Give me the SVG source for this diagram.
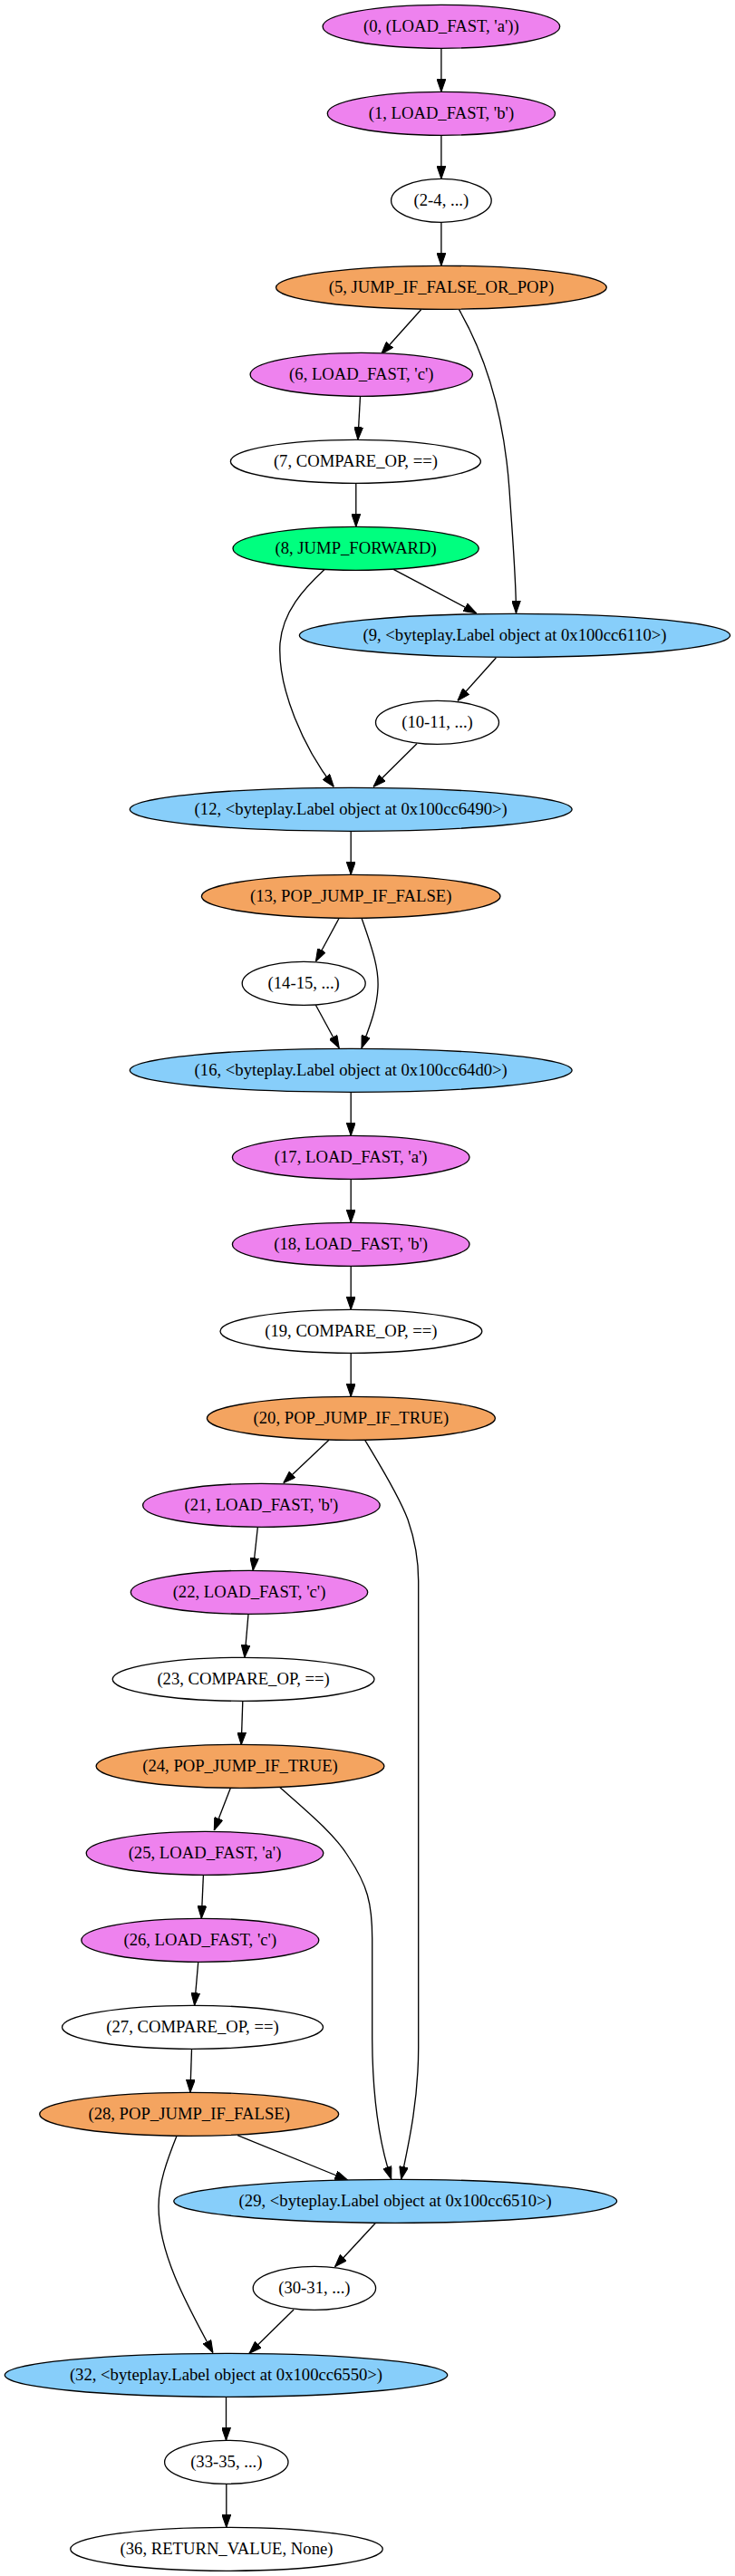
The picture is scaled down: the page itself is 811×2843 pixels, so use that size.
<svg xmlns="http://www.w3.org/2000/svg" width="811" height="2843" viewBox="0 0 811 2843">
<style>
.n ellipse{stroke:#000;stroke-width:1.33}
.n text{font-family:"Liberation Serif",Times,serif;font-size:18.67px;text-anchor:middle;fill:#000}
.v{fill:#EE82EE}.o{fill:#F4A460}.g{fill:#00FF7F}.b{fill:#87CEFA}.w{fill:#FFFFFF}
#edges path{fill:none;stroke:#000;stroke-width:1.33;marker-end:url(#ah)}
</style>
<defs>
<marker id="ah" markerUnits="userSpaceOnUse" markerWidth="14" markerHeight="10" viewBox="0 0 13.33 9.33" refX="13.33" refY="4.67" orient="auto">
<path d="M0,0 L13.33,4.67 L0,9.33 z" fill="#000" stroke="#000" stroke-width="1"/>
</marker>
</defs>
<rect width="811" height="2843" fill="#fff"/>
<g id="edges">
<path d="M486.9,53.3 L486.9,101.3"/>
<path d="M486.9,149.3 L486.9,197.3"/>
<path d="M486.9,245.3 L486.9,293.3"/>
<path d="M464.6,341.7 L420.7,390.7"/>
<path d="M506.5,341.7 C540,400 557,470 562,540 C566,600 569.5,640 569.5,676.7"/>
<path d="M397.5,437.3 L394.9,485.3"/>
<path d="M392.8,533.3 L392.8,581.3"/>
<path d="M434.2,628.3 L525.6,676.7"/>
<path d="M358.3,628.3 C335,650 312,675 309,710 C306,760 335,825 368.3,868.3"/>
<path d="M547.3,726 L505,773.3"/>
<path d="M460,820.7 L412,868.3"/>
<path d="M387.2,917.3 L387.2,965.3"/>
<path d="M374.2,1013.3 L348.4,1061"/>
<path d="M399,1013.3 C412,1050 418,1070 417,1090 C416,1115 405,1140 399,1156.7"/>
<path d="M348.4,1109.3 L374.2,1156.7"/>
<path d="M387.2,1205.3 L387.2,1253.3"/>
<path d="M387.2,1301.3 L387.2,1349.3"/>
<path d="M387.2,1397.3 L387.2,1445.3"/>
<path d="M387.2,1493.3 L387.2,1541.3"/>
<path d="M362.9,1589.3 L312.7,1636.7"/>
<path d="M402.7,1589.3 C418,1615 440,1650 450,1677 C458,1700 461.7,1720 461.7,1745 L461.7,2260 C461.7,2320 450,2370 442.7,2405"/>
<path d="M284.3,1686 L279.2,1733.3"/>
<path d="M274,1781.7 L269.9,1829.3"/>
<path d="M267.8,1877.7 L266.2,1925.7"/>
<path d="M254.4,1973.3 L236.3,2020"/>
<path d="M309,1972.7 C340,2000 370,2025 385,2050 C405,2080 410.7,2100 410.7,2140 L410.7,2250 C411,2320 420,2370 431.7,2405"/>
<path d="M224.4,2069.3 L222.3,2117.3"/>
<path d="M218.7,2165.7 L214.6,2213.3"/>
<path d="M211.5,2261.7 L209.9,2309.3"/>
<path d="M262.1,2356.7 L383.5,2406"/>
<path d="M195,2357.3 C184,2385 175,2410 175,2435 C175,2490 210,2550 235,2596.7"/>
<path d="M414.5,2453.3 L369.6,2501.7"/>
<path d="M324.1,2549 L275,2597.3"/>
<path d="M249.5,2645.3 L249.5,2693.3"/>
<path d="M249.8,2741.3 L249.8,2789.3"/>
</g>
<g id="n0" class="n"><ellipse class="v" cx="486.9" cy="29.3" rx="130.8" ry="24"/><text x="486.9" y="34.9">(0, (LOAD_FAST, 'a'))</text></g>
<g id="n1" class="n"><ellipse class="v" cx="486.9" cy="125.3" rx="125.6" ry="24"/><text x="486.9" y="130.9">(1, LOAD_FAST, 'b')</text></g>
<g id="n2" class="n"><ellipse class="w" cx="486.9" cy="221.3" rx="55.3" ry="24"/><text x="486.9" y="226.9">(2-4, ...)</text></g>
<g id="n5" class="n"><ellipse class="o" cx="486.9" cy="317.3" rx="182.4" ry="24"/><text x="486.9" y="322.9">(5, JUMP_IF_FALSE_OR_POP)</text></g>
<g id="n6" class="n"><ellipse class="v" cx="398.8" cy="413.3" rx="122.7" ry="24"/><text x="398.8" y="418.9">(6, LOAD_FAST, 'c')</text></g>
<g id="n7" class="n"><ellipse class="w" cx="392.4" cy="509.3" rx="138" ry="24"/><text x="392.4" y="514.9">(7, COMPARE_OP, ==)</text></g>
<g id="n8" class="n"><ellipse class="g" cx="392.6" cy="605.3" rx="135.6" ry="24"/><text x="392.6" y="610.9">(8, JUMP_FORWARD)</text></g>
<g id="n9" class="n"><ellipse class="b" cx="568" cy="701.3" rx="237.6" ry="24"/><text x="568" y="706.9">(9, &lt;byteplay.Label object at 0x100cc6110&gt;)</text></g>
<g id="n10" class="n"><ellipse class="w" cx="482.5" cy="797.3" rx="68" ry="24"/><text x="482.5" y="802.9">(10-11, ...)</text></g>
<g id="n12" class="n"><ellipse class="b" cx="387.2" cy="893.3" rx="243.9" ry="24"/><text x="387.2" y="898.9">(12, &lt;byteplay.Label object at 0x100cc6490&gt;)</text></g>
<g id="n13" class="n"><ellipse class="o" cx="387.2" cy="989.3" rx="164.8" ry="24"/><text x="387.2" y="994.9">(13, POP_JUMP_IF_FALSE)</text></g>
<g id="n14" class="n"><ellipse class="w" cx="335.2" cy="1085.3" rx="68" ry="24"/><text x="335.2" y="1090.9">(14-15, ...)</text></g>
<g id="n16" class="n"><ellipse class="b" cx="387.2" cy="1181.3" rx="243.9" ry="24"/><text x="387.2" y="1186.9">(16, &lt;byteplay.Label object at 0x100cc64d0&gt;)</text></g>
<g id="n17" class="n"><ellipse class="v" cx="387.2" cy="1277.3" rx="130.8" ry="24"/><text x="387.2" y="1282.9">(17, LOAD_FAST, 'a')</text></g>
<g id="n18" class="n"><ellipse class="v" cx="387.2" cy="1373.3" rx="130.8" ry="24"/><text x="387.2" y="1378.9">(18, LOAD_FAST, 'b')</text></g>
<g id="n19" class="n"><ellipse class="w" cx="387.4" cy="1469.3" rx="144.4" ry="24"/><text x="387.4" y="1474.9">(19, COMPARE_OP, ==)</text></g>
<g id="n20" class="n"><ellipse class="o" cx="387.4" cy="1565.3" rx="159" ry="24"/><text x="387.4" y="1570.9">(20, POP_JUMP_IF_TRUE)</text></g>
<g id="n21" class="n"><ellipse class="v" cx="288.4" cy="1661.3" rx="130.8" ry="24"/><text x="288.4" y="1666.9">(21, LOAD_FAST, 'b')</text></g>
<g id="n22" class="n"><ellipse class="v" cx="275" cy="1757.3" rx="130.7" ry="24"/><text x="275" y="1762.9">(22, LOAD_FAST, 'c')</text></g>
<g id="n23" class="n"><ellipse class="w" cx="268.6" cy="1853.3" rx="144.4" ry="24"/><text x="268.6" y="1858.9">(23, COMPARE_OP, ==)</text></g>
<g id="n24" class="n"><ellipse class="o" cx="265" cy="1949.3" rx="158.9" ry="24"/><text x="265" y="1954.9">(24, POP_JUMP_IF_TRUE)</text></g>
<g id="n25" class="n"><ellipse class="v" cx="226" cy="2045.3" rx="130.8" ry="24"/><text x="226" y="2050.9">(25, LOAD_FAST, 'a')</text></g>
<g id="n26" class="n"><ellipse class="v" cx="220.8" cy="2141.3" rx="131" ry="24"/><text x="220.8" y="2146.9">(26, LOAD_FAST, 'c')</text></g>
<g id="n27" class="n"><ellipse class="w" cx="212.5" cy="2237.3" rx="144" ry="24"/><text x="212.5" y="2242.9">(27, COMPARE_OP, ==)</text></g>
<g id="n28" class="n"><ellipse class="o" cx="208.7" cy="2333.3" rx="165" ry="24"/><text x="208.7" y="2338.9">(28, POP_JUMP_IF_FALSE)</text></g>
<g id="n29" class="n"><ellipse class="b" cx="436.2" cy="2429.3" rx="244.4" ry="24"/><text x="436.2" y="2434.9">(29, &lt;byteplay.Label object at 0x100cc6510&gt;)</text></g>
<g id="n30" class="n"><ellipse class="w" cx="346.9" cy="2525.3" rx="67.7" ry="24"/><text x="346.9" y="2530.9">(30-31, ...)</text></g>
<g id="n32" class="n"><ellipse class="b" cx="249.5" cy="2621.3" rx="244.2" ry="24"/><text x="249.5" y="2626.9">(32, &lt;byteplay.Label object at 0x100cc6550&gt;)</text></g>
<g id="n33" class="n"><ellipse class="w" cx="249.8" cy="2717.3" rx="68.2" ry="24"/><text x="249.8" y="2722.9">(33-35, ...)</text></g>
<g id="n36" class="n"><ellipse class="w" cx="250" cy="2813.3" rx="172.3" ry="24"/><text x="250" y="2818.9">(36, RETURN_VALUE, None)</text></g>
</svg>
